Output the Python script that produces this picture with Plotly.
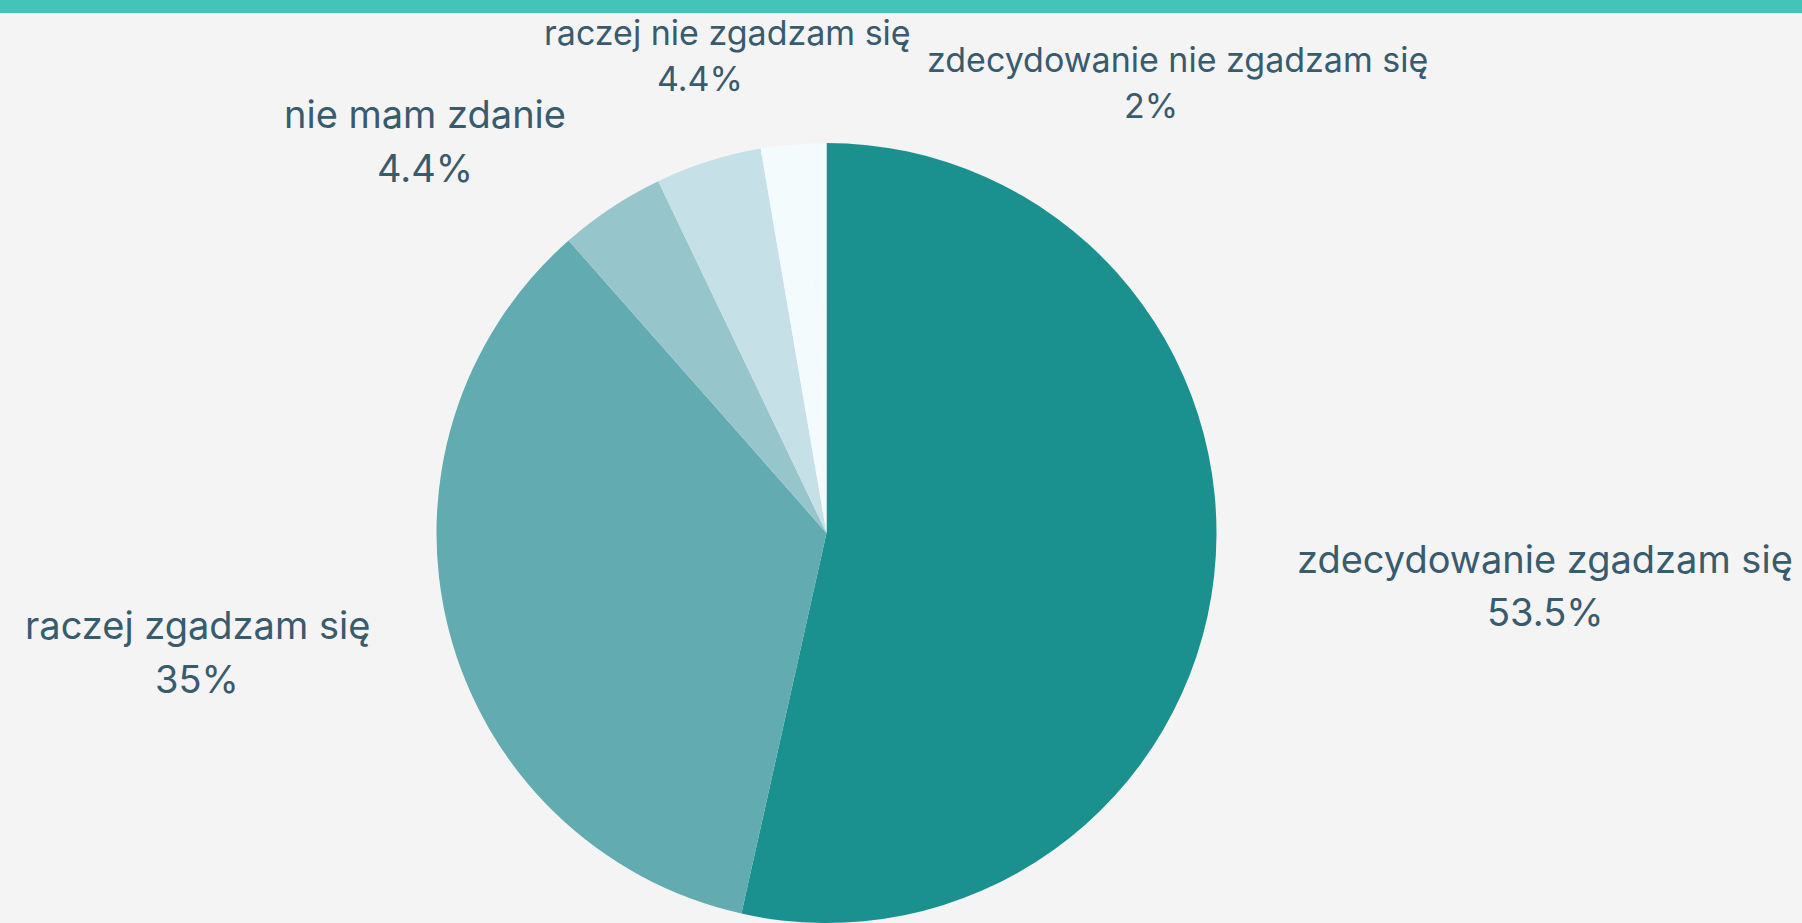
import plotly.graph_objects as go

# ---- data ----
categories = [
    "zdecydowanie zgadzam się",
    "raczej zgadzam się",
    "nie mam zdanie",
    "raczej nie zgadzam się",
    "zdecydowanie nie zgadzam się",
]
percents = [53.5, 35, 4.4, 4.4, 2]

# ---- style ----
colors = ["#1a918e", "#62abb0", "#96c5cc", "#c6e0e8", "#f3fbfd"]
text_color = "#385b6d"
bg = "#f4f4f4"
W, H = 1802, 923

# label layout: (x line1 px, x line2 px, first baseline px, font size, line gap px)
label_layout = [
    (1545, 1545, 573, 38, 53),
    (197, 197, 639, 38, 54),
    (425, 425, 128, 38, 54),
    (727, 700, 45, 34, 46),
    (1177, 1151, 72, 34, 46),
]

# rounding remainder drawn with the last slice colour (pie drawn to 100 %)
remainder = round(100 - sum(percents), 2)
pie_values = percents + [remainder]
pie_labels = categories + [" "]
pie_colors = colors + [colors[-1]]

fig = go.Figure()
fig.add_trace(go.Pie(
    labels=pie_labels,
    values=pie_values,
    sort=False,
    direction="clockwise",
    rotation=0,
    textinfo="none",
    hoverinfo="label+value",
    marker=dict(colors=pie_colors, line=dict(width=0)),
    showlegend=False,
    domain=dict(x=[(826.5 - 390) / W, (826.5 + 390) / W], y=[0, 1 - 143 / H]),
))

annotations = []
for cat, pct, (x1, x2, b1, fs, gap) in zip(categories, percents, label_layout):
    lines = [(cat, x1), (f"{pct:g}%", x2)]
    for i, (line, xc) in enumerate(lines):
        baseline = b1 + i * gap
        bottom = baseline + 0.242 * fs + 2
        annotations.append(dict(
            text=line, x=xc / W, y=1 - bottom / H,
            xref="paper", yref="paper", xanchor="center", yanchor="bottom",
            showarrow=False,
            font=dict(family="Inter", size=fs, color=text_color),
        ))

fig.update_layout(
    width=W, height=H,
    paper_bgcolor=bg, plot_bgcolor=bg,
    margin=dict(l=0, r=0, t=0, b=0),
    annotations=annotations,
    shapes=[dict(type="rect", xref="paper", yref="paper",
                 x0=0, x1=1, y0=1 - 13 / H, y1=1,
                 fillcolor="#44c3b9", line=dict(width=0), layer="above")],
)

fig.write_html(
    "out.html",
    config={"displayModeBar": False},
    post_script="document.body.style.margin='0';document.body.style.overflow='hidden';",
)
